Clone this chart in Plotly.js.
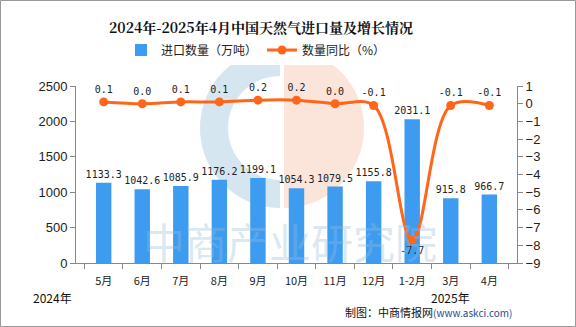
<!DOCTYPE html>
<html><head><meta charset="utf-8">
<script src="https://cdn.plot.ly/plotly-3.0.1.min.js"></script>
<style>html,body{margin:0;padding:0;background:#fff}#c{width:576px;height:327px}</style>
</head><body><div id="c"></div>
<script>
const categories = ["5月","6月","7月","8月","9月","10月","11月","12月","1-2月","3月","4月"];
const importVolume = [1133.3,1042.6,1085.9,1176.2,1199.1,1054.3,1079.5,1155.8,2031.1,915.8,966.7];
const yoyGrowth = [0.1,0.0,0.1,0.1,0.2,0.2,0.0,-0.1,-7.7,-0.1,-0.1];
const barName = "进口数量（万吨）";
const lineName = "数量同比（%）";

const L=76,R=517,T=86,B=263;
const px=x=>(x-L)/(R-L), py=y=>(B-y)/(B-T);
function ring(cx,cy,r1,r2,a0,a1){
  const pts=[];const n=40;
  for(let i=0;i<=n;i++){const a=(a0+(a1-a0)*i/n)*Math.PI/180;pts.push([cx+r1*Math.cos(a),cy-r1*Math.sin(a)]);}
  for(let i=n;i>=0;i--){const a=(a0+(a1-a0)*i/n)*Math.PI/180;pts.push([cx+r2*Math.cos(a),cy-r2*Math.sin(a)]);}
  return 'M'+pts.map(p=>px(p[0]).toFixed(4)+','+py(p[1]).toFixed(4)).join('L')+'Z';
}
const font="Liberation Sans, Arial, sans-serif";
const mono="DejaVu Sans Mono, monospace";
const linePos = yoyGrowth.map(v=>v<-5?'bottom center':'top center');
const traces=[
 {type:'bar',x:categories,y:importVolume,name:barName,marker:{color:'#3d9cf0'},width:0.4,
  text:importVolume.map(v=>v.toFixed(1)),textposition:'outside',cliponaxis:false,constraintext:'none',
  textfont:{family:mono,size:10,color:'#222'},yaxis:'y'},
 {type:'scatter',mode:'lines+markers+text',x:categories,y:yoyGrowth,name:lineName,yaxis:'y2',
  line:{color:'#ff661a',width:3,shape:'spline',smoothing:1},marker:{color:'#ff661a',size:9},
  text:yoyGrowth.map(v=>v.toFixed(1)),textposition:linePos,cliponaxis:false,
  textfont:{family:mono,size:10,color:'#222'}}
];
const layout={
 width:576,height:327,margin:{l:L,r:576-R,t:T,b:327-B},
 paper_bgcolor:'#fff',plot_bgcolor:'rgba(0,0,0,0)',
 font:{family:font,size:12,color:'#222'},
 title:{text:'<b>2024年-2025年4月中国天然气进口量及增长情况</b>',xref:'container',x:261/576,xanchor:'center',y:0.915,yanchor:'middle',
   font:{family:"Noto Serif CJK SC, Noto Sans CJK SC, serif",size:14,color:'#111'}},
 showlegend:true,
 legend:{orientation:'h',x:px(256),xanchor:'center',y:py(50),yanchor:'middle',font:{family:"Noto Sans CJK SC",size:12,color:'#222'},traceorder:'normal'},
 xaxis:{type:'category',showline:true,linecolor:'#888',linewidth:1,ticks:'outside',tickson:'boundaries',ticklen:5,tickcolor:'#888',
   ticklabelstandoff:8,tickfont:{family:"Noto Sans CJK SC",size:11,color:'#222'},showgrid:false,zeroline:false},
 yaxis:{range:[0,2500],dtick:500,showline:true,linecolor:'#888',ticks:'outside',ticklen:5,tickcolor:'#888',showgrid:false,zeroline:false,
   tickfont:{family:font,size:13,color:'#222'}},
 yaxis2:{overlaying:'y',side:'right',range:[-9,1],dtick:1,showline:true,linecolor:'#888',ticks:'outside',ticklen:5,tickcolor:'#888',
   showgrid:false,zeroline:false,tickfont:{family:font,size:13,color:'#222'}},
 shapes:[
  {type:'path',xref:'paper',yref:'paper',layer:'below',path:ring(280,128,80,52,90,270),fillcolor:'rgba(200,222,236,0.75)',line:{width:0}},
  {type:'path',xref:'paper',yref:'paper',layer:'below',path:ring(284,128,80,0,-90,90),fillcolor:'rgba(250,220,206,0.75)',line:{width:0}},
  {type:'rect',xref:'paper',yref:'paper',x0:px(0.5),x1:px(575.5),y0:py(326.5),y1:py(0.5),line:{color:'#999',width:1},layer:'below'}
 ],
 annotations:[
  {text:'中商产业研究院',xref:'paper',yref:'paper',x:px(290),y:py(240),xanchor:'center',yanchor:'middle',showarrow:false,
   font:{family:"Noto Sans CJK SC",size:42,color:'rgba(150,190,220,0.35)'}},
  {text:'2024年',xref:'paper',yref:'paper',x:px(52),y:py(297),xanchor:'center',yanchor:'middle',showarrow:false,font:{family:"Noto Sans CJK SC",size:12,color:'#111'}},
  {text:'2025年',xref:'paper',yref:'paper',x:px(450),y:py(297),xanchor:'center',yanchor:'middle',showarrow:false,font:{family:"Noto Sans CJK SC",size:12,color:'#111'}},
  {text:'制图：中商情报网<span style="color:#2a4d8f;font-size:10px">(www.askci.com)</span>',xref:'paper',yref:'paper',x:px(514),xanchor:'right',y:py(312),yanchor:'middle',showarrow:false,
   font:{family:"Noto Sans CJK SC",size:11,color:'#111'}}
 ]
};
Plotly.newPlot('c',traces,layout,{staticPlot:true,displayModeBar:false});
</script></body></html>
